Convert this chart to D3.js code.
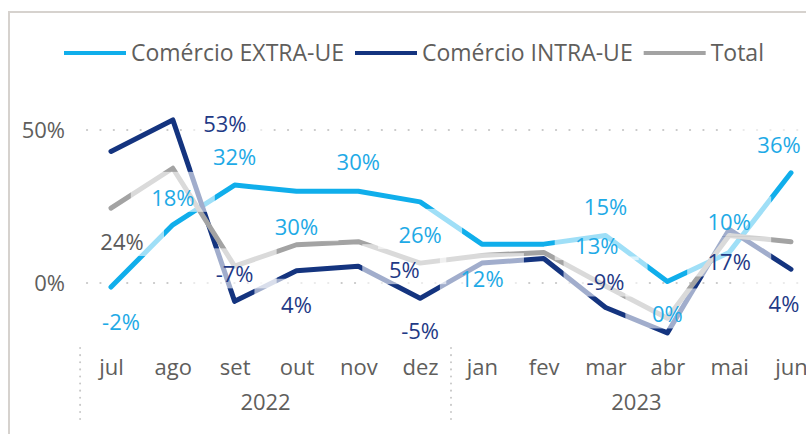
<!DOCTYPE html>
<html>
<head>
<meta charset="utf-8">
<script src="https://cdn.jsdelivr.net/npm/d3@7"></script>
<style>
  body { margin: 0; background: #fff; }
  svg text { font-family: "Open Sans", "Segoe UI", sans-serif; }
</style>
</head>
<body>
<svg id="chart" width="806" height="434"></svg>
<script>
// months and years on the x axis
var months = ["jul", "ago", "set", "out", "nov", "dez", "jan", "fev", "mar", "abr", "mai", "jun"];
var years = ["2022", "2023"];
var yearStart = [0, 6];
var yTicks = [0, 50];

// series values (%)
var extraUE = [-1.3, 19, 32, 30, 30, 26.5, 12.7, 12.7, 15.5, 0.5, 10, 36];
var intraUE = [43, 53.3, -6, 4, 5.5, -5, 6.5, 8, -8, -16.3, 17.5, 4.5];
var total = [24.5, 37.5, 5.5, 12.5, 13.5, 6.5, 9, 10, -1, -11.5, 15.5, 13.5];

// data labels as printed (null = no label)
var extraLabels = ["-2%", "18%", "32%", "30%", "30%", "26%", "12%", "13%", "15%", "0%", "10%", "36%"];
var intraLabels = [null, "53%", "-7%", "4%", "5%", "-5%", null, null, "-9%", null, "17%", "4%"];
var totalLabels = ["24%", null, null, null, null, null, null, null, null, null, null, null];

var series = [
  {name: "Comércio EXTRA-UE", values: extraUE, labels: extraLabels, color: "#10aeeb", labelColor: "#1eaae6",
   nudge: [[10, 35], [0, -27], [0, -28], [0, 36], [0, -29], [0, 33], [0, 35], [53, 2], [0, -28], [0, 33], [0, -30], [-12, -28]]},
  {name: "Comércio INTRA-UE", values: intraUE, labels: intraLabels, color: "#14347f", labelColor: "#1f3a86",
   nudge: [null, [52, 4], [0, -27], [0, 34], [46, 4], [0, 33], null, null, [0, -25], null, [0, 33], [-7, 35]]},
  {name: "Total", values: total, labels: totalLabels, color: "#a3a3a3", labelColor: "#5a5a5a",
   nudge: [[11, 34], null, null, null, null, null, null, null, null, null, null, null]}
];

var svg = d3.select("#chart");

var x = d3.scalePoint()
  .domain(d3.range(months.length))
  .range([111, 791]);
var step = x.step();

var y = d3.scaleLinear()
  .domain([0, 50])
  .range([283, 130]);

// frame
svg.append("path")
  .attr("d", "M9,434 V12 H806")
  .attr("fill", "none")
  .attr("stroke", "#d6d2ce")
  .attr("stroke-width", 2);

// dotted gridlines
svg.append("g")
  .selectAll("line")
  .data(yTicks)
  .enter().append("line")
  .attr("x1", 87)
  .attr("x2", 806)
  .attr("y1", function(d) { return y(d); })
  .attr("y2", function(d) { return y(d); })
  .attr("stroke", "#c8c8c8")
  .attr("stroke-width", 2.2)
  .attr("stroke-linecap", "round")
  .attr("stroke-dasharray", "0.1,13.3");

// y axis labels
var yAxis = svg.append("g")
  .attr("transform", "translate(87,0)")
  .call(d3.axisLeft(y).tickValues(yTicks).tickSize(0).tickPadding(22).tickFormat(function(d) { return d + "%"; }));
yAxis.select(".domain").remove();
yAxis.selectAll("text")
  .style("font-family", "'Open Sans', sans-serif")
  .style("font-size", "22px")
  .attr("fill", "#605e5c");

// month labels
var xAxis = svg.append("g")
  .attr("transform", "translate(0,348)")
  .call(d3.axisBottom(x).tickSize(0).tickPadding(11).tickFormat(function(i) { return months[i]; }));
xAxis.select(".domain").remove();
xAxis.selectAll("text")
  .style("font-family", "'Open Sans', sans-serif")
  .style("font-size", "22px")
  .attr("fill", "#605e5c");

// year separators and labels
var seps = yearStart.map(function(i) { return x(i) - step / 2; });
svg.append("g")
  .selectAll("line")
  .data(seps)
  .enter().append("line")
  .attr("x1", function(d) { return d; })
  .attr("x2", function(d) { return d; })
  .attr("y1", 348)
  .attr("y2", 421)
  .attr("stroke", "#c8c8c8")
  .attr("stroke-width", 2)
  .attr("stroke-linecap", "round")
  .attr("stroke-dasharray", "0.1,7");

svg.append("g")
  .selectAll("text")
  .data(years)
  .enter().append("text")
  .attr("x", function(d, i) {
    var a = x(yearStart[i]) - step / 2;
    var b = i + 1 < yearStart.length ? x(yearStart[i + 1]) - step / 2 : x(months.length - 1) + step / 2;
    return (a + b) / 2;
  })
  .attr("y", 410)
  .attr("text-anchor", "middle")
  .style("font-size", "22px")
  .attr("fill", "#605e5c")
  .text(function(d) { return d; });

// lines
var line = d3.line()
  .x(function(d, i) { return x(i); })
  .y(function(d) { return y(d); });

svg.append("g")
  .selectAll("path")
  .data(series)
  .enter().append("path")
  .attr("d", function(s) { return line(s.values); })
  .attr("fill", "none")
  .attr("stroke", function(s) { return s.color; })
  .attr("stroke-width", 5)
  .attr("stroke-linejoin", "round")
  .attr("stroke-linecap", "round");

// data labels, with their pale background boxes
var labels = [];
series.forEach(function(s) {
  s.labels.forEach(function(t, i) {
    if (t === null) return;
    labels.push({
      text: t,
      color: s.labelColor,
      cx: x(i) + s.nudge[i][0],
      cy: y(s.values[i]) + s.nudge[i][1]
    });
  });
});

svg.append("g")
  .selectAll("rect")
  .data(labels)
  .enter().append("rect")
  .attr("x", function(d) { return d.cx - 42; })
  .attr("y", function(d) { return d.cy - 26; })
  .attr("width", 84)
  .attr("height", 40)
  .attr("fill", "#fff")
  .attr("fill-opacity", 0.6);

svg.append("g")
  .selectAll("text")
  .data(labels)
  .enter().append("text")
  .attr("x", function(d) { return d.cx; })
  .attr("y", function(d) { return d.cy; })
  .attr("dy", "0.36em")
  .attr("text-anchor", "middle")
  .style("font-size", "22px")
  .attr("fill", function(d) { return d.color; })
  .text(function(d) { return d.text; });

// legend
var lx = 64;
series.forEach(function(s) {
  svg.append("line")
    .attr("x1", lx)
    .attr("x2", lx + 62)
    .attr("y1", 53)
    .attr("y2", 53)
    .attr("stroke", s.color)
    .attr("stroke-width", 4);
  var t = svg.append("text")
    .attr("x", lx + 67)
    .attr("y", 61)
    .style("font-size", "23px")
    .attr("fill", "#605e5c")
    .text(s.name);
  lx += 67 + t.node().getComputedTextLength() + 11;
});
</script>
</body>
</html>
